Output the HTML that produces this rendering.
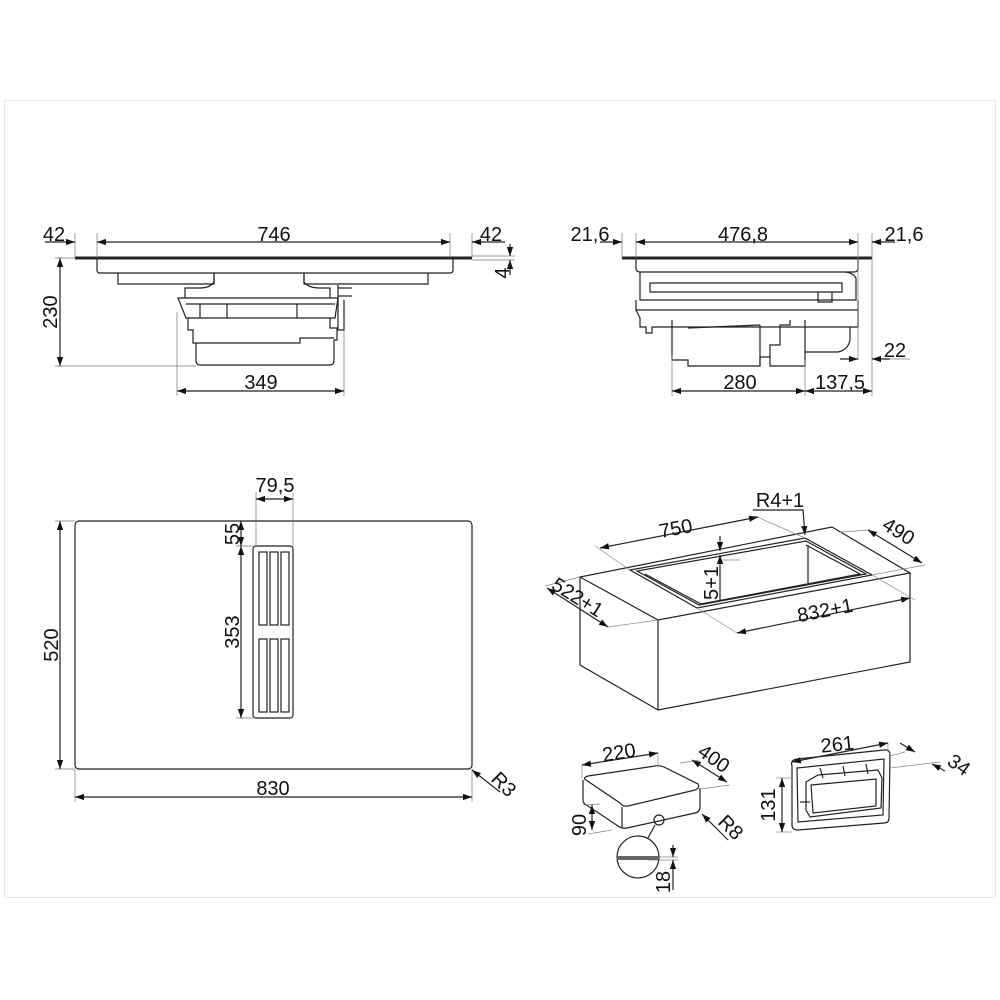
<!DOCTYPE html>
<html><head><meta charset="utf-8"><style>
html,body{margin:0;padding:0;background:#fff}
svg{display:block}
text{font-family:"Liberation Sans",Arial,sans-serif;font-size:20px;fill:#111}
</style></head><body>
<svg width="1000" height="1000" viewBox="0 0 1000 1000" xmlns="http://www.w3.org/2000/svg">
<defs>
<marker id="a" viewBox="0 0 10 10" refX="10" refY="5" markerWidth="9" markerHeight="9" orient="auto-start-reverse" markerUnits="userSpaceOnUse"><path d="M0,1.5 L10,5 L0,8.5 z" fill="#111"/></marker>
</defs>
<rect x="4.5" y="100.5" width="991" height="797" fill="none" stroke="#e6e6e6" stroke-width="1"/>
<g fill="none" stroke="#222" stroke-width="1.2">
<line x1="75" y1="258" x2="472" y2="258" stroke-width="3"/>
<path d="M97,259 V270 Q97,273 100,273 H450 Q453,273 453,270 V259"/>
<path d="M118,273 V284 H214 V273"/>
<path d="M304,273 V284 H428 V273"/>
<path d="M214,273 V282 Q210,288 200,288 H185 V298"/>
<path d="M304,273 V282 Q308,288 320,288 H330 V298"/>
<path d="M178,298 H338 L335,318 H186 Z"/>
<line x1="186" y1="304" x2="335" y2="304"/>
<line x1="200" y1="304" x2="200" y2="318"/><line x1="227" y1="304" x2="227" y2="318"/><line x1="297" y1="304" x2="297" y2="318"/>
<path d="M188,318 V330 H193 V343 H196 V360 Q196,365 200,365 H330 Q334,365 334,360 V340 H337 V328 H330 V318"/>
<path d="M196,343 H300 V338 H334"/>
<path d="M338,285 V330 H344 V300"/>
<line x1="338" y1="288" x2="352" y2="288"/><line x1="338" y1="296" x2="352" y2="296"/>
<g stroke="#777" stroke-width="0.7">
<line x1="75" y1="233" x2="75" y2="258"/><line x1="97" y1="233" x2="97" y2="258"/>
<line x1="450" y1="233" x2="450" y2="258"/><line x1="472" y1="233" x2="472" y2="258"/>
<line x1="55" y1="258" x2="75" y2="258"/><line x1="55" y1="366" x2="196" y2="366"/>
<line x1="472" y1="256" x2="515" y2="256"/><line x1="472" y1="260" x2="515" y2="260"/>
<line x1="177" y1="312" x2="177" y2="396"/><line x1="344" y1="330" x2="344" y2="396"/>
</g>
<line x1="97" y1="242" x2="450" y2="242" marker-start="url(#a)" marker-end="url(#a)"/>
<line x1="45" y1="242" x2="75" y2="242" marker-end="url(#a)"/>
<line x1="505" y1="242" x2="472" y2="242" marker-end="url(#a)"/>
<line x1="60" y1="258" x2="60" y2="366" marker-start="url(#a)" marker-end="url(#a)"/>
<line x1="177" y1="391" x2="344" y2="391" marker-start="url(#a)" marker-end="url(#a)"/>
<line x1="510" y1="244" x2="510" y2="256" marker-end="url(#a)"/>
<line x1="510" y1="275" x2="510" y2="260" marker-end="url(#a)"/>

<line x1="622" y1="258" x2="872" y2="258" stroke-width="3"/>
<path d="M636,259 V268 Q636,272 640,272 H854 Q858,272 858,268 V259"/>
<path d="M640,272 V300 H856 V278 Q852,272 845,272"/>
<path d="M650,283 H842 V292 H650 Z"/>
<path d="M636,300 V310 H858 V300"/>
<path d="M636,310 L640,318 V327 H646 V333 H652 V327 H858 V310"/>
<path d="M672,320 V360 H688 V366 H760 V357 H770 V366 H805 V352 H838 Q848,350 850,340 V327"/>
<path d="M770,357 V345 H780 V325 H790 V320"/>
<path d="M688,328 L760,325"/><path d="M760,325 V366"/>
<path d="M805,352 V320"/>
<path d="M818,292 V302 H832 V292"/>
<g stroke="#777" stroke-width="0.7">
<line x1="622" y1="233" x2="622" y2="258"/><line x1="636" y1="233" x2="636" y2="258"/>
<line x1="858" y1="233" x2="858" y2="360"/><line x1="872" y1="233" x2="872" y2="396"/>
<line x1="672" y1="355" x2="672" y2="396"/><line x1="805" y1="360" x2="805" y2="396"/>
<line x1="872" y1="359" x2="910" y2="359"/>
</g>
<line x1="636" y1="242" x2="858" y2="242" marker-start="url(#a)" marker-end="url(#a)"/>
<line x1="600" y1="242" x2="622" y2="242" marker-end="url(#a)"/>
<line x1="895" y1="242" x2="872" y2="242" marker-end="url(#a)"/>
<line x1="840" y1="359" x2="858" y2="359" marker-end="url(#a)"/>
<line x1="890" y1="359" x2="872" y2="359" marker-end="url(#a)"/>
<line x1="672" y1="391" x2="805" y2="391" marker-start="url(#a)" marker-end="url(#a)"/>
<line x1="805" y1="391" x2="872" y2="391" marker-start="url(#a)" marker-end="url(#a)"/>

<rect x="75" y="521" width="397" height="248" rx="4"/>
<rect x="253" y="546" width="40" height="172" rx="3"/>
<rect x="259" y="552" width="8" height="73"/><rect x="270" y="552" width="8" height="73"/><rect x="281" y="552" width="8" height="73"/>
<rect x="259" y="639" width="8" height="73"/><rect x="270" y="639" width="8" height="73"/><rect x="281" y="639" width="8" height="73"/>
<g stroke="#777" stroke-width="0.7">
<line x1="256" y1="492" x2="256" y2="546"/><line x1="293" y1="492" x2="293" y2="546"/>
<line x1="236" y1="546" x2="253" y2="546"/><line x1="236" y1="718" x2="253" y2="718"/>
<line x1="55" y1="521" x2="75" y2="521"/><line x1="55" y1="769" x2="75" y2="769"/>
<line x1="75" y1="769" x2="75" y2="802"/><line x1="472" y1="769" x2="472" y2="802"/>
</g>
<line x1="256" y1="499" x2="293" y2="499" marker-start="url(#a)" marker-end="url(#a)"/>
<line x1="241" y1="521" x2="241" y2="546" marker-start="url(#a)" marker-end="url(#a)"/>
<line x1="241" y1="546" x2="241" y2="718" marker-start="url(#a)" marker-end="url(#a)"/>
<line x1="60" y1="521" x2="60" y2="769" marker-start="url(#a)" marker-end="url(#a)"/>
<line x1="75" y1="797" x2="472" y2="797" marker-start="url(#a)" marker-end="url(#a)"/>
<line x1="500" y1="792" x2="472" y2="770" marker-end="url(#a)"/>

<path d="M580,577 L658,620 L910,573 L832,527 Z"/>
<path d="M580,577 V665 L658,710 L910,662 V573"/>
<line x1="658" y1="620" x2="658" y2="710"/>
<path d="M630,570 L697,608 L872,575 L805,538 Z"/>
<path d="M637,571 L699,605 L866,574 L806,541 Z"/>
<path d="M645,574 L701,604 L860,574 L806,545"/>
<line x1="808" y1="545" x2="808" y2="583"/>
<g stroke="#888" stroke-width="0.7">
<line x1="595" y1="546" x2="630" y2="570"/><line x1="755" y1="516" x2="805" y2="538"/>
<line x1="840" y1="532" x2="870" y2="530"/><line x1="872" y1="575" x2="925" y2="565"/>
<line x1="545" y1="586" x2="580" y2="577"/><line x1="608" y1="627" x2="658" y2="620"/>
<line x1="697" y1="608" x2="737" y2="633"/><line x1="872" y1="575" x2="915" y2="600"/>
<line x1="720" y1="560" x2="740" y2="560"/>
</g>
<line x1="600" y1="548" x2="758" y2="517" marker-start="url(#a)" marker-end="url(#a)"/>
<polyline points="753,510 803,510 805,535" marker-end="url(#a)"/>
<line x1="868" y1="530" x2="922" y2="563" marker-start="url(#a)" marker-end="url(#a)"/>
<line x1="547" y1="588" x2="608" y2="627" marker-start="url(#a)" marker-end="url(#a)"/>
<line x1="737" y1="633" x2="910" y2="598" marker-start="url(#a)" marker-end="url(#a)"/>
<line x1="720" y1="536" x2="720" y2="551" marker-end="url(#a)"/>
<line x1="720" y1="600" x2="720" y2="555" marker-end="url(#a)"/>

<path d="M586,780 L620,803 Q623,807 628,806 L695,790 Q700,788 698,784 L664,767 Q660,765 655,766 L588,776 Q582,778 586,780 Z"/>
<path d="M583,780 V800 Q583,804 588,806 L618,826 Q622,829 627,828 L695,813 Q700,812 700,807 V788"/>
<line x1="622" y1="807" x2="622" y2="828"/>
<g stroke="#888" stroke-width="0.7">
<line x1="582" y1="765" x2="582" y2="778"/><line x1="658" y1="753" x2="658" y2="766"/>
<line x1="680" y1="763" x2="700" y2="760"/><line x1="700" y1="789" x2="730" y2="785"/>
<line x1="583" y1="805" x2="600" y2="804"/><line x1="588" y1="834" x2="612" y2="830"/>
<line x1="648" y1="857" x2="678" y2="857"/><line x1="648" y1="860" x2="678" y2="860"/>
</g>
<line x1="582" y1="765" x2="658" y2="753" marker-start="url(#a)" marker-end="url(#a)"/>
<line x1="692" y1="760" x2="727" y2="782" marker-start="url(#a)" marker-end="url(#a)"/>
<line x1="728" y1="840" x2="702" y2="814" marker-end="url(#a)"/>
<line x1="592" y1="805" x2="592" y2="830" marker-start="url(#a)" marker-end="url(#a)"/>
<line x1="673" y1="845" x2="673" y2="857" marker-end="url(#a)"/>
<line x1="673" y1="890" x2="673" y2="860" marker-end="url(#a)"/>
<circle cx="659" cy="820" r="5"/>
<line x1="655" y1="825" x2="648" y2="838"/>
<circle cx="638" cy="857" r="21"/>
<rect x="617" y="856" width="42" height="4" fill="#666" stroke="none"/>

<path d="M792,766 Q790,760 797,759 L884,750 Q890,749 890,755 L889,818 Q889,823 884,823 L798,830 Q792,830 792,825 Z"/>
<path d="M797,768 L884,759 L883,815 L798,822 Z"/>
<path d="M806,782 L818,775 L878,770 L882,778 L881,808 L810,817 L806,810 Z"/>
<path d="M811,785 L876,779 L876,806 L813,813 Z"/>
<line x1="820" y1="768" x2="823" y2="778"/><line x1="843" y1="766" x2="845" y2="776"/><line x1="866" y1="764" x2="868" y2="774"/>
<line x1="800" y1="802" x2="810" y2="802"/>
<g stroke="#888" stroke-width="0.7">
<line x1="888" y1="743" x2="888" y2="752"/>
<line x1="776" y1="778" x2="792" y2="778"/><line x1="776" y1="832" x2="792" y2="832"/>
<line x1="890" y1="756" x2="905" y2="752"/><line x1="890" y1="768" x2="940" y2="762"/>
</g>
<line x1="792" y1="762" x2="888" y2="743" marker-start="url(#a)" marker-end="url(#a)"/>
<line x1="782" y1="778" x2="782" y2="832" marker-start="url(#a)" marker-end="url(#a)"/>
<line x1="900" y1="743" x2="915" y2="752" marker-end="url(#a)"/>
<line x1="945" y1="771" x2="932" y2="764" marker-end="url(#a)"/>
</g>

<text x="54" y="241" text-anchor="middle">42</text>
<text x="274" y="241" text-anchor="middle">746</text>
<text x="491" y="241" text-anchor="middle">42</text>
<text transform="translate(509,273) rotate(-90)" text-anchor="middle">4</text>
<text transform="translate(57,312) rotate(-90)" text-anchor="middle">230</text>
<text x="261" y="389" text-anchor="middle">349</text>

<text x="590" y="241" text-anchor="middle">21,6</text>
<text x="743" y="241" text-anchor="middle">476,8</text>
<text x="904" y="241" text-anchor="middle">21,6</text>
<text x="895" y="357" text-anchor="middle">22</text>
<text x="740" y="389" text-anchor="middle">280</text>
<text x="840" y="389" text-anchor="middle">137,5</text>

<text x="275" y="492" text-anchor="middle">79,5</text>
<text transform="translate(239,534) rotate(-90)" text-anchor="middle">55</text>
<text transform="translate(239,632) rotate(-90)" text-anchor="middle">353</text>
<text transform="translate(58,645) rotate(-90)" text-anchor="middle">520</text>
<text x="273" y="795" text-anchor="middle">830</text>
<text transform="translate(490,780) rotate(45)">R3</text>

<text transform="translate(677,535) rotate(-11)" text-anchor="middle">750</text>
<text x="780" y="507" text-anchor="middle">R4+1</text>
<text transform="translate(895,537) rotate(32)" text-anchor="middle">490</text>
<text transform="translate(574,603) rotate(32)" text-anchor="middle">522+1</text>
<text x="825" y="617" text-anchor="middle" transform="rotate(-11 825 610)">832+1</text>
<text transform="translate(718,583) rotate(-90)" text-anchor="middle">5+1</text>

<text transform="translate(620,759) rotate(-9)" text-anchor="middle">220</text>
<text transform="translate(710,764) rotate(35)" text-anchor="middle">400</text>
<text transform="translate(717,823) rotate(45)">R8</text>
<text transform="translate(586,825) rotate(-90)" text-anchor="middle">90</text>
<text transform="translate(670,882) rotate(-90)" text-anchor="middle">18</text>
<text transform="translate(838,751) rotate(-6)" text-anchor="middle">261</text>
<text transform="translate(775,805) rotate(-90)" text-anchor="middle">131</text>
<text transform="translate(946,764) rotate(35)">34</text>
</svg>
</body></html>
